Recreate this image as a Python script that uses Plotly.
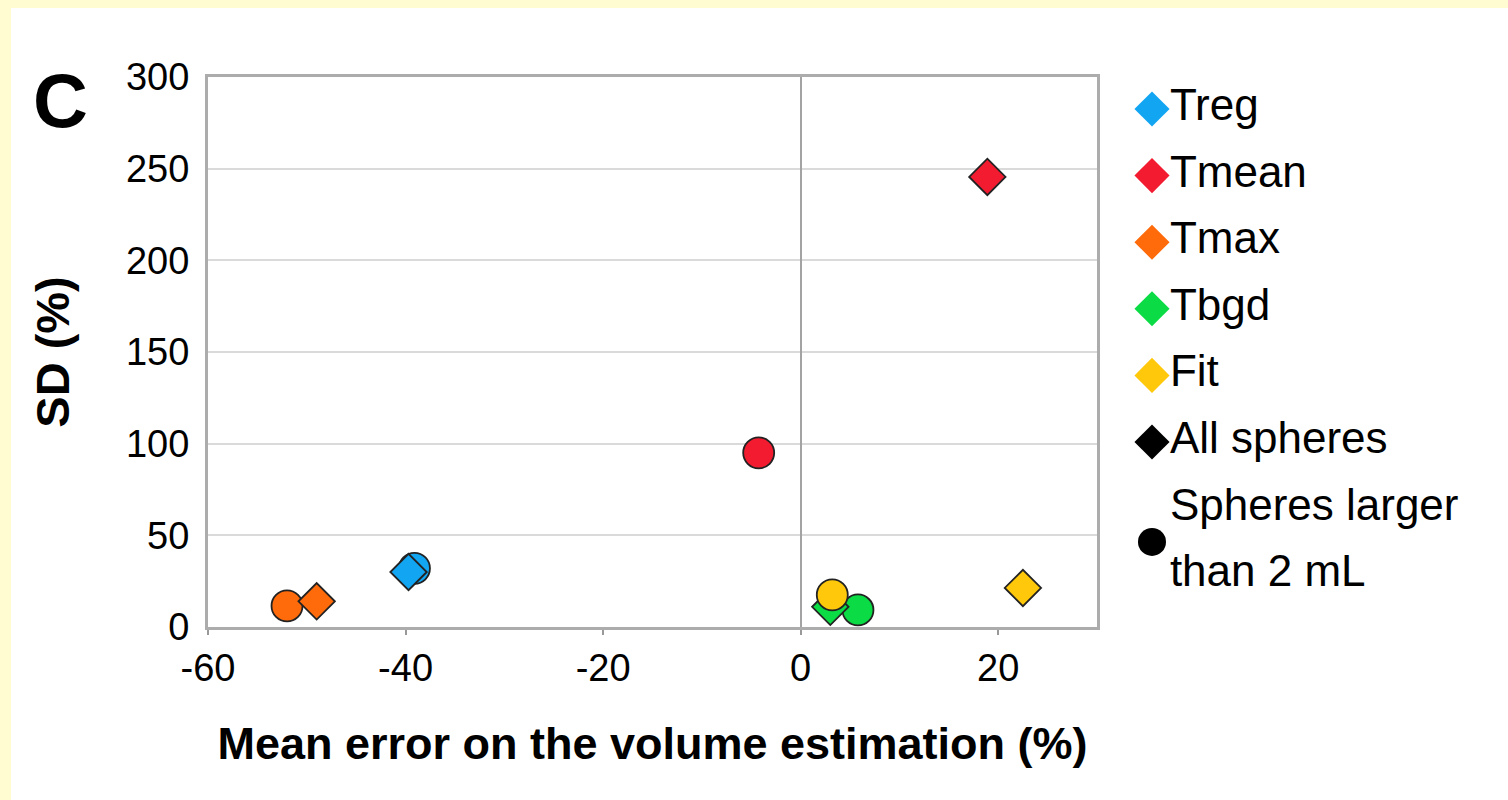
import plotly.graph_objects as go

# ---- data ----
methods = ["Treg", "Tmean", "Tmax", "Tbgd", "Fit"]
method_colors = ["#12A5F2", "#F21B30", "#FF6A0A", "#0BDC45", "#FFC80A"]
all_x = [-39.7, 18.9, -49.0, 3.0, 22.5]
all_y = [30, 245.5, 14, 11, 21.3]
large_x = [-39.1, -4.25, -52.0, 5.8, 3.2]
large_y = [32, 95, 11.5, 9.3, 17.5]

x_ticks = [-60, -40, -20, 0, 20]
x_tick_labels = [str(v) for v in x_ticks]  # plain hyphen minus, as in the reference
y_ticks = [0, 50, 100, 150, 200, 250, 300]

# legend rows (last label wraps over two rows)
legend_rows = methods + ["All spheres", "Spheres larger", "than 2 mL"]
legend_row_colors = method_colors + ["#000000", "rgba(0,0,0,0)", "rgba(0,0,0,0)"]

FONT = "Liberation Sans, Arial, Helvetica, sans-serif"
W, H = 1508, 800
L, R, T, B = 208, 10, 77, 173
PW = W - L - R
PH = H - T - B
PLOT_RIGHT = 1097


def px_x(p):
    return (p - L) / PW


def px_y(p):
    return (H - B - p) / PH


fig = go.Figure()

for i, m in enumerate(methods):
    fig.add_trace(go.Scatter(
        x=[large_x[i]], y=[large_y[i]], mode="markers", showlegend=False,
        marker=dict(symbol="circle", size=31, color=method_colors[i], opacity=1,
                    line=dict(color="#222222", width=1.8)),
        name=m + " (>2 mL)"))
    fig.add_trace(go.Scatter(
        x=[all_x[i]], y=[all_y[i]], mode="markers", showlegend=False,
        marker=dict(symbol="diamond", size=28, color=method_colors[i], opacity=1,
                    line=dict(color="#222222", width=1.8)),
        name=m + " (all)"))

# custom legend drawn on hidden axes
row_idx = list(range(len(legend_rows)))
fig.add_trace(go.Scatter(
    x=[0] * len(legend_rows), y=row_idx, mode="markers+text",
    text=legend_rows, textposition="middle right",
    textfont=dict(family=FONT, size=44, color="#000000"),
    marker=dict(symbol="diamond", size=27, color=legend_row_colors, opacity=1,
                line=dict(width=0)),
    xaxis="x2", yaxis="y2", showlegend=False, hoverinfo="skip"))
fig.add_trace(go.Scatter(
    x=[0], y=[(row_idx[-2] + row_idx[-1]) / 2], mode="markers",
    marker=dict(symbol="circle", size=28, color="#000000", opacity=1, line=dict(width=0)),
    xaxis="x2", yaxis="y2", showlegend=False, hoverinfo="skip"))

ROW_PX = 66.6
ROW0 = 109
axis_line = "#ACACAC"
fig.update_layout(
    width=W, height=H,
    margin=dict(l=L, r=R, t=T, b=B, pad=0),
    paper_bgcolor="#FFFCD2",
    plot_bgcolor="#FFFFFF",
    showlegend=False,
    font=dict(family=FONT, color="#000000"),
    xaxis=dict(
        domain=[0, px_x(PLOT_RIGHT)], range=[-60, 30],
        tickvals=x_ticks, ticktext=x_tick_labels,
        ticks="outside", ticklen=5, tickwidth=1.5, tickcolor="#999999",
        tickfont=dict(size=38, family=FONT), ticklabelstandoff=0,
        showgrid=False, zeroline=True, zerolinecolor="#A3A3A3", zerolinewidth=2,
        showline=True, linecolor=axis_line, linewidth=3, mirror=True,
        title=dict(text="Mean error on the volume estimation (%)",
                   font=dict(size=45, family=FONT, weight="bold"), standoff=40),
        anchor="y",
    ),
    yaxis=dict(
        range=[0, 300], tickvals=y_ticks, ticks="",
        tickfont=dict(size=38, family=FONT), ticklabelstandoff=8,
        showgrid=True, gridcolor="#DADADA", gridwidth=2,
        zeroline=False,
        showline=True, linecolor=axis_line, linewidth=3, mirror=True,
        title=dict(text="SD (%)", font=dict(size=47, family=FONT, weight="bold"), standoff=42),
        anchor="x",
    ),
    xaxis2=dict(domain=[px_x(1132), 1.0], range=[-1, 17.3], visible=False,
                anchor="y2", fixedrange=True),
    yaxis2=dict(domain=[px_y(ROW0 + 7.6 * ROW_PX), px_y(ROW0 - 0.4 * ROW_PX)],
                range=[7.6, -0.4], visible=False, anchor="x2", fixedrange=True),
    shapes=[dict(type="rect", xref="paper", yref="paper",
                 x0=px_x(11), x1=px_x(W + 5), y0=px_y(H + 5), y1=px_y(8),
                 fillcolor="#FFFFFF", line=dict(width=0), layer="below")],
    annotations=[dict(text="<b>C</b>", xref="paper", yref="paper",
                      x=px_x(31), y=px_y(100), xanchor="left", yanchor="middle",
                      showarrow=False, font=dict(size=76, family=FONT, color="#000000"))],
)

fig.write_html("out.html", config={"displayModeBar": False},
               post_script="document.body.style.margin='0';")
